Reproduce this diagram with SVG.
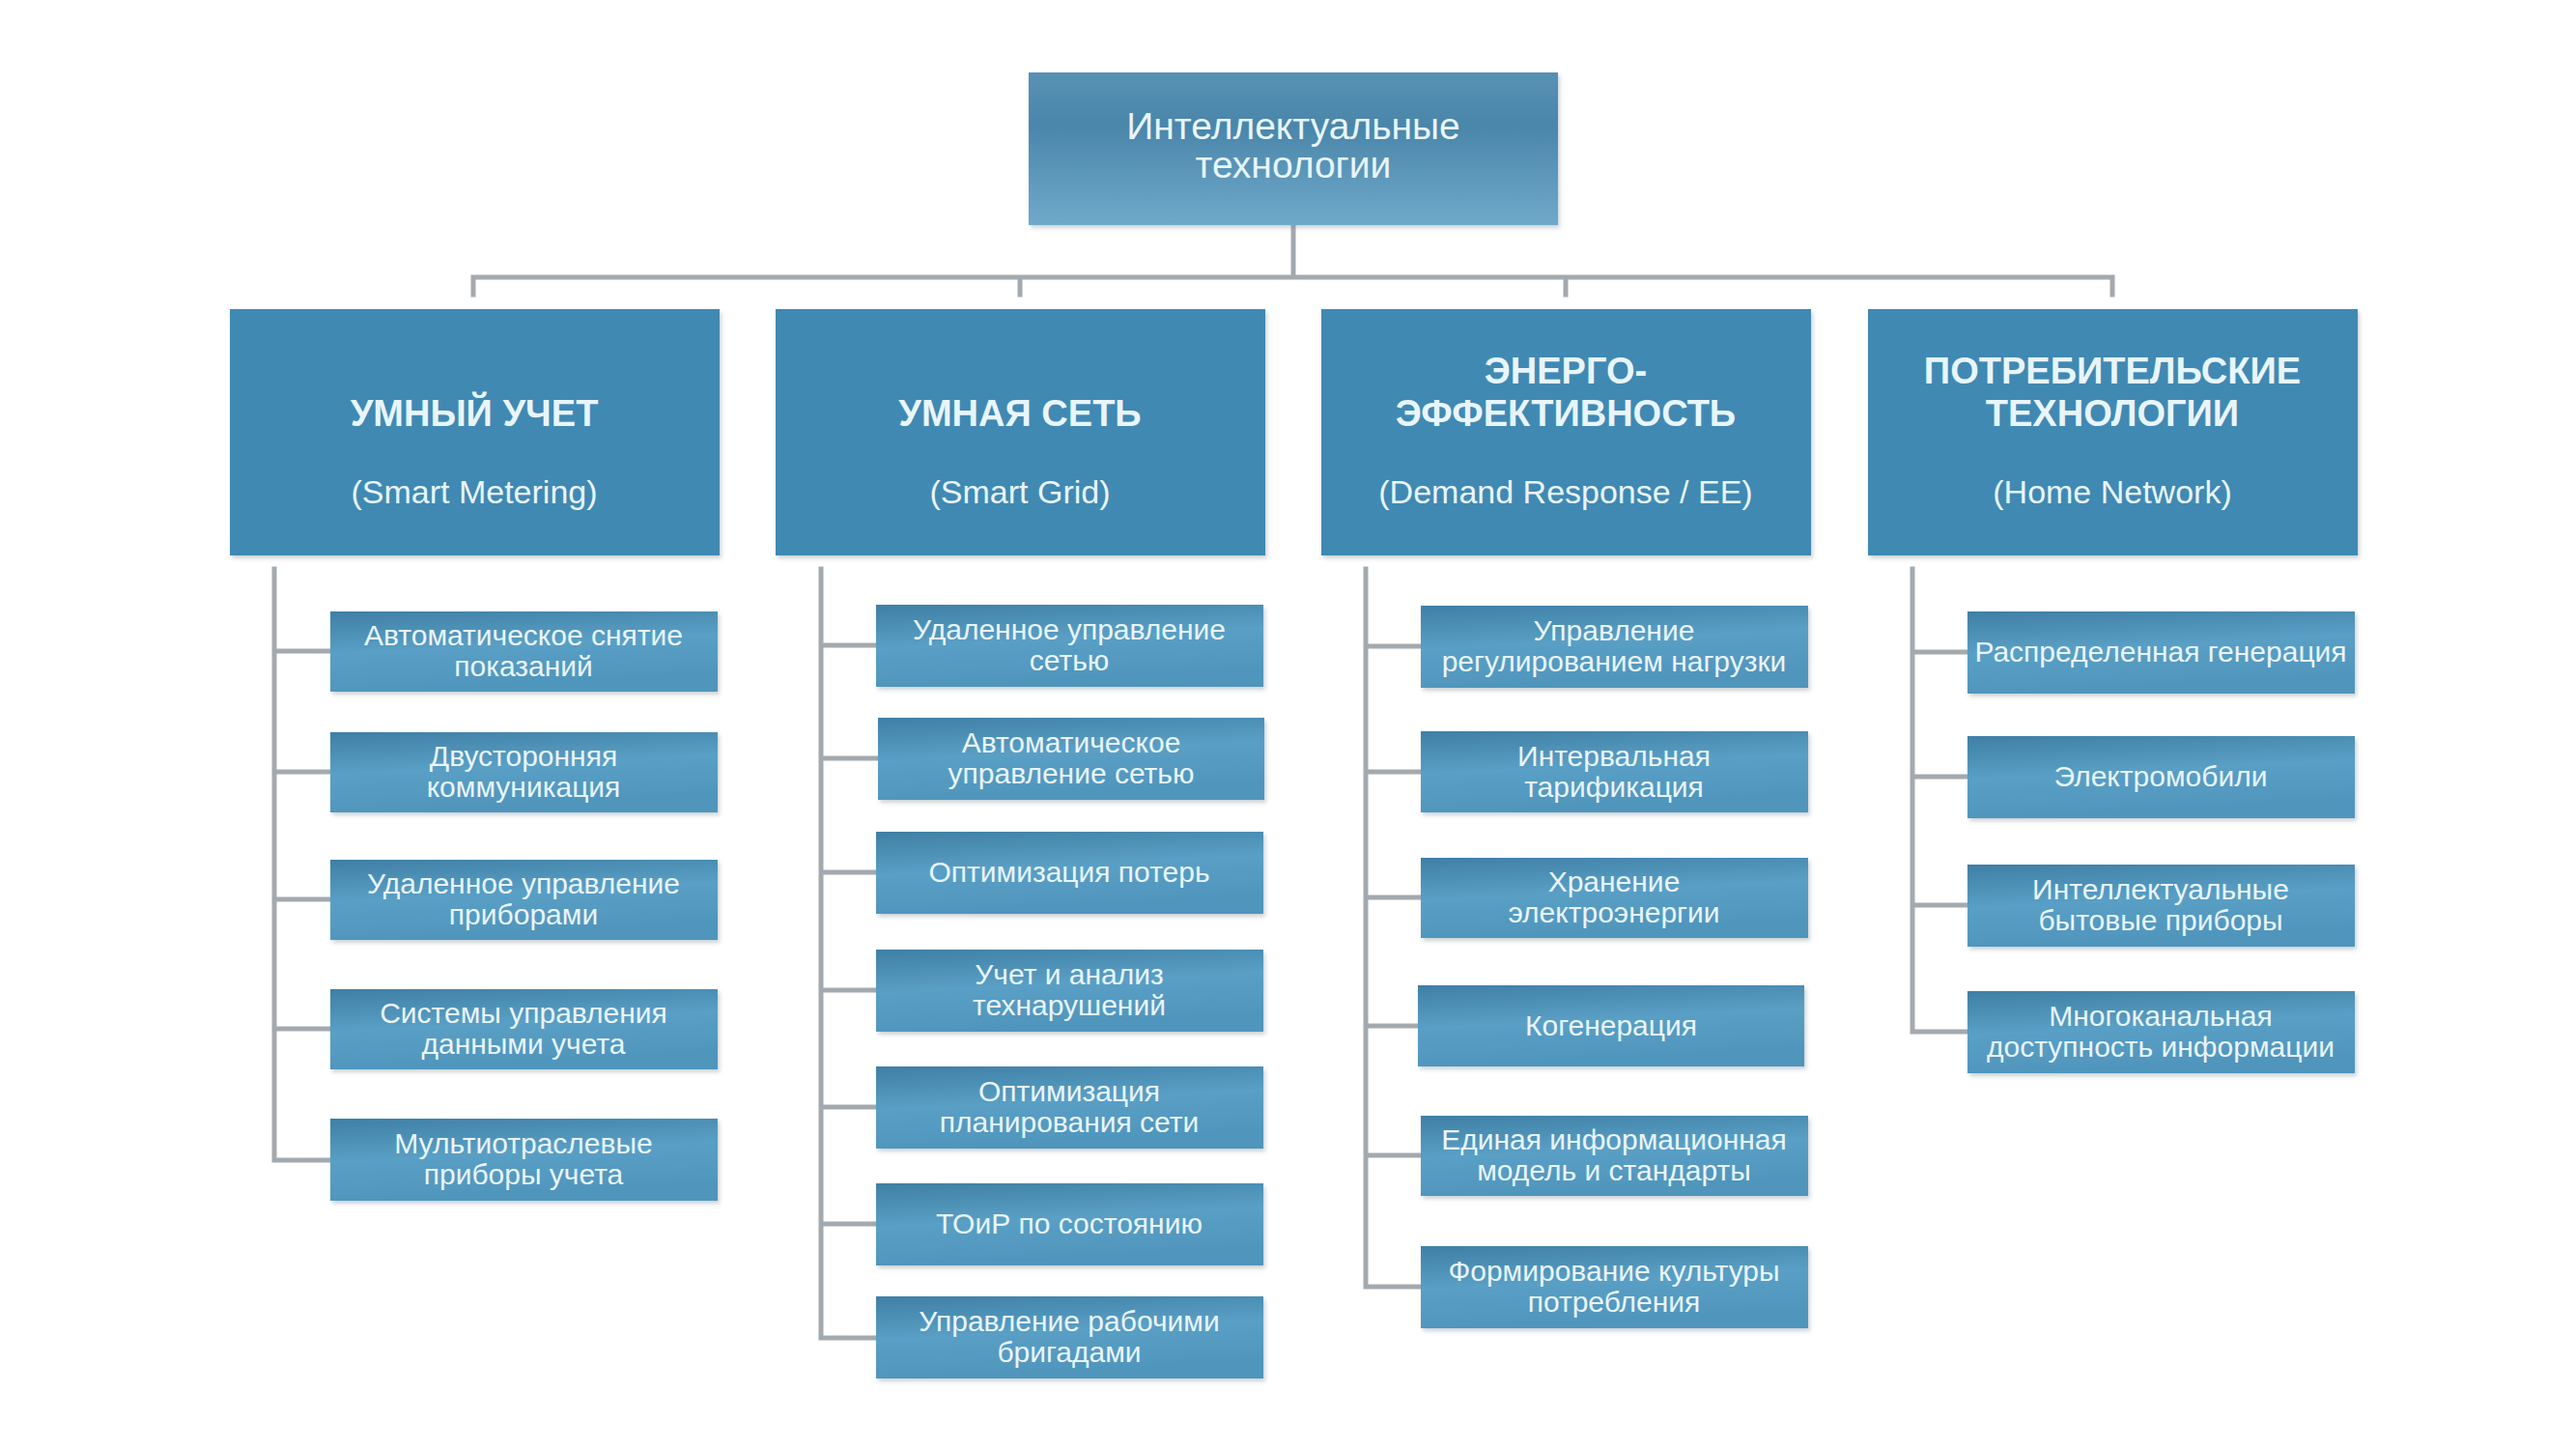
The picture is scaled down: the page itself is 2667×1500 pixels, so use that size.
<svg xmlns="http://www.w3.org/2000/svg" width="2667" height="1500" viewBox="0 0 2667 1500">
<defs>
<linearGradient id="gTop" x1="0" y1="0" x2="0" y2="1">
<stop offset="0" stop-color="#5791b3"/>
<stop offset="0.35" stop-color="#4a86aa"/>
<stop offset="1" stop-color="#6fa9ca"/>
</linearGradient>
<linearGradient id="gChild" x1="0" y1="0" x2="0.25" y2="1">
<stop offset="0" stop-color="#3f7fa5"/>
<stop offset="0.5" stop-color="#5a9fc5"/>
<stop offset="1" stop-color="#4f95bc"/>
</linearGradient>
<filter id="sh" x="-5%" y="-10%" width="110%" height="125%">
<feDropShadow dx="2" dy="3" stdDeviation="2" flood-color="#6d7f8a" flood-opacity="0.35"/>
</filter>
<style>
.top{fill:url(#gTop);filter:url(#sh)}
.cat{fill:#4189b3;filter:url(#sh)}
.ch{fill:url(#gChild);filter:url(#sh)}
.ln{stroke:#a3aaaf;stroke-width:5;fill:none;stroke-linecap:square}
text{font-family:"Liberation Sans","Noto Sans",Arial,sans-serif;fill:#e8f5fb;text-anchor:middle}
.tt{font-size:39px}
.cb{font-size:38px;font-weight:bold}
.cp{font-size:34px}
.ct{font-size:30px}
</style>
</defs>
<rect width="2667" height="1500" fill="#ffffff"/>

<g id="connectors">
<path class="ln" d="M1339 233 V287 M490 287 H2187 M490 287 V305 M1056 287 V305 M1621 287 V305 M2187 287 V305"/>
<path class="ln" d="M284 589 V1201 M284 674 H342 M284 799 H342 M284 931 H342 M284 1065 H342 M284 1201 H342"/>
<path class="ln" d="M850 589 V1385 M850 668 H907 M850 785 H907 M850 903 H907 M850 1025 H907 M850 1146 H907 M850 1267 H907 M850 1385 H907"/>
<path class="ln" d="M1414 589 V1332 M1414 669 H1471 M1414 799 H1471 M1414 929 H1471 M1414 1062 H1468 M1414 1196 H1471 M1414 1332 H1471"/>
<path class="ln" d="M1980 589 V1068 M1980 675 H2037 M1980 804 H2037 M1980 937 H2037 M1980 1068 H2037"/>
</g>

<g id="root">
<rect class="top" x="1065" y="75" width="548" height="158"/>
<text class="tt" x="1339" y="144">Интеллектуальные</text>
<text class="tt" x="1339" y="184">технологии</text>
</g>

<g id="cat-smart-metering">
<rect class="cat" x="238" y="320" width="507" height="255"/>
<text class="cb" x="491" y="441">УМНЫЙ УЧЕТ</text>
<text class="cp" x="491" y="521">(Smart Metering)</text>
</g>
<g id="cat-smart-grid">
<rect class="cat" x="803" y="320" width="507" height="255"/>
<text class="cb" x="1056" y="441">УМНАЯ СЕТЬ</text>
<text class="cp" x="1056" y="521">(Smart Grid)</text>
</g>
<g id="cat-ee">
<rect class="cat" x="1368" y="320" width="507" height="255"/>
<text class="cb" x="1621" y="397">ЭНЕРГО-</text>
<text class="cb" x="1621" y="441">ЭФФЕКТИВНОСТЬ</text>
<text class="cp" x="1621" y="521">(Demand Response / EE)</text>
</g>
<g id="cat-home">
<rect class="cat" x="1934" y="320" width="507" height="255"/>
<text class="cb" x="2187" y="397">ПОТРЕБИТЕЛЬСКИЕ</text>
<text class="cb" x="2187" y="441">ТЕХНОЛОГИИ</text>
<text class="cp" x="2187" y="521">(Home Network)</text>
</g>

<g id="sm1"><rect class="ch" x="342" y="633" width="401" height="83"/><text class="ct" x="542" y="668">Автоматическое снятие</text><text class="ct" x="542" y="700">показаний</text></g>
<g id="sm2"><rect class="ch" x="342" y="758" width="401" height="83"/><text class="ct" x="542" y="793">Двусторонняя</text><text class="ct" x="542" y="825">коммуникация</text></g>
<g id="sm3"><rect class="ch" x="342" y="890" width="401" height="83"/><text class="ct" x="542" y="925">Удаленное управление</text><text class="ct" x="542" y="957">приборами</text></g>
<g id="sm4"><rect class="ch" x="342" y="1024" width="401" height="83"/><text class="ct" x="542" y="1059">Системы управления</text><text class="ct" x="542" y="1091">данными учета</text></g>
<g id="sm5"><rect class="ch" x="342" y="1158" width="401" height="85"/><text class="ct" x="542" y="1194">Мультиотраслевые</text><text class="ct" x="542" y="1226">приборы учета</text></g>

<g id="sg1"><rect class="ch" x="907" y="626" width="401" height="85"/><text class="ct" x="1107" y="662">Удаленное управление</text><text class="ct" x="1107" y="694">сетью</text></g>
<g id="sg2"><rect class="ch" x="909" y="743" width="400" height="85"/><text class="ct" x="1109" y="779">Автоматическое</text><text class="ct" x="1109" y="811">управление сетью</text></g>
<g id="sg3"><rect class="ch" x="907" y="861" width="401" height="85"/><text class="ct" x="1107" y="913">Оптимизация потерь</text></g>
<g id="sg4"><rect class="ch" x="907" y="983" width="401" height="85"/><text class="ct" x="1107" y="1019">Учет и анализ</text><text class="ct" x="1107" y="1051">технарушений</text></g>
<g id="sg5"><rect class="ch" x="907" y="1104" width="401" height="85"/><text class="ct" x="1107" y="1140">Оптимизация</text><text class="ct" x="1107" y="1172">планирования сети</text></g>
<g id="sg6"><rect class="ch" x="907" y="1225" width="401" height="85"/><text class="ct" x="1107" y="1277">ТОиР по состоянию</text></g>
<g id="sg7"><rect class="ch" x="907" y="1342" width="401" height="85"/><text class="ct" x="1107" y="1378">Управление рабочими</text><text class="ct" x="1107" y="1410">бригадами</text></g>

<g id="ee1"><rect class="ch" x="1471" y="627" width="401" height="85"/><text class="ct" x="1671" y="663">Управление</text><text class="ct" x="1671" y="695">регулированием нагрузки</text></g>
<g id="ee2"><rect class="ch" x="1471" y="757" width="401" height="84"/><text class="ct" x="1671" y="793">Интервальная</text><text class="ct" x="1671" y="825">тарификация</text></g>
<g id="ee3"><rect class="ch" x="1471" y="888" width="401" height="83"/><text class="ct" x="1671" y="923">Хранение</text><text class="ct" x="1671" y="955">электроэнергии</text></g>
<g id="ee4"><rect class="ch" x="1468" y="1020" width="400" height="84"/><text class="ct" x="1668" y="1072">Когенерация</text></g>
<g id="ee5"><rect class="ch" x="1471" y="1155" width="401" height="83"/><text class="ct" x="1671" y="1190">Единая информационная</text><text class="ct" x="1671" y="1222">модель и стандарты</text></g>
<g id="ee6"><rect class="ch" x="1471" y="1290" width="401" height="85"/><text class="ct" x="1671" y="1326">Формирование культуры</text><text class="ct" x="1671" y="1358">потребления</text></g>

<g id="hn1"><rect class="ch" x="2037" y="633" width="401" height="85"/><text class="ct" x="2237" y="685">Распределенная генерация</text></g>
<g id="hn2"><rect class="ch" x="2037" y="762" width="401" height="85"/><text class="ct" x="2237" y="814">Электромобили</text></g>
<g id="hn3"><rect class="ch" x="2037" y="895" width="401" height="85"/><text class="ct" x="2237" y="931">Интеллектуальные</text><text class="ct" x="2237" y="963">бытовые приборы</text></g>
<g id="hn4"><rect class="ch" x="2037" y="1026" width="401" height="85"/><text class="ct" x="2237" y="1062">Многоканальная</text><text class="ct" x="2237" y="1094">доступность информации</text></g>
</svg>
